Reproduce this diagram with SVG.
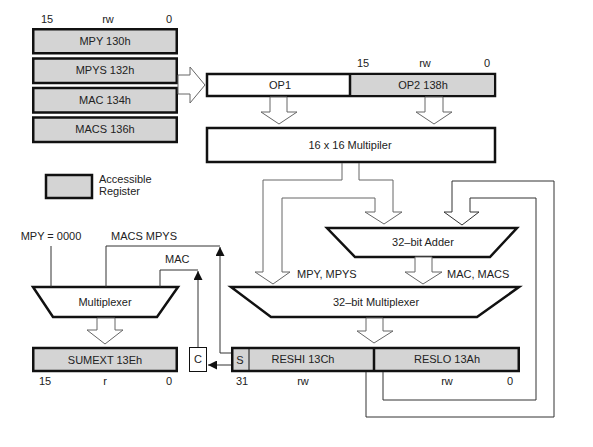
<svg xmlns="http://www.w3.org/2000/svg" width="593" height="447" viewBox="0 0 593 447">
<style>
text{font-family:"Liberation Sans",Arial,sans-serif;font-size:11px;fill:#222}
.m{text-anchor:middle}
.reg{fill:#d4d4d4;stroke:#111;stroke-width:2.5}
.box{fill:#fff;stroke:#111;stroke-width:2.5}
.thin{fill:#fff;stroke:#111;stroke-width:1}
.bus{fill:#fff;stroke:#666;stroke-width:1}
.ln{fill:none;stroke:#333;stroke-width:1}
.bl{fill:none;stroke:#666;stroke-width:1}
</style>
<defs>
<marker id="ah" viewBox="0 0 10 10" refX="10" refY="5" markerWidth="9" markerHeight="9" markerUnits="userSpaceOnUse" orient="auto">
<path d="M0,0 L10,5 L0,10 Z" fill="#111"/>
</marker>
</defs>
<rect width="593" height="447" fill="#fff"/>

<g id="regstack">
<text class="m" x="47" y="23">15</text>
<text class="m" x="108" y="23">rw</text>
<text class="m" x="169" y="23">0</text>
<rect class="reg" x="33.25" y="29.25" width="143.5" height="24"/>
<rect class="reg" x="33.25" y="58.5" width="143.5" height="24.5"/>
<rect class="reg" x="33.25" y="88" width="143.5" height="24.5"/>
<rect class="reg" x="33.25" y="117.5" width="143.5" height="24.5"/>
<text class="m" x="105" y="45">MPY 130h</text>
<text class="m" x="105" y="74">MPYS 132h</text>
<text class="m" x="105" y="104">MAC 134h</text>
<text class="m" x="105" y="133">MACS 136h</text>
</g>

<g id="legend">
<rect class="reg" x="46" y="175" width="46" height="23"/>
<text x="99" y="183">Accessible</text>
<text x="99" y="195">Register</text>
</g>

<g id="op">
<text class="m" x="363" y="67">15</text>
<text class="m" x="425" y="67">rw</text>
<text class="m" x="487" y="67">0</text>
<rect class="box" x="207" y="74" width="288" height="22"/>
<rect x="350" y="75.25" width="143.75" height="19.5" fill="#d4d4d4"/>
<line x1="350" y1="74" x2="350" y2="96" stroke="#111" stroke-width="2.5"/>
<text class="m" x="280" y="89">OP1</text>
<text class="m" x="423" y="89">OP2 138h</text>
</g>

<g id="multiplier">
<rect class="box" x="207" y="128" width="288" height="34"/>
<text class="m" x="350" y="149">16 x 16 Multipiler</text>
</g>

<g id="adder">
<polygon class="box" points="327,228 517,228 490,257 355,257"/>
<text class="m" x="423" y="246">32–bit Adder</text>
</g>

<g id="mux32">
<polygon class="box" points="231,287 519,287 477,317 271,317"/>
<text class="m" x="376" y="306">32–bit Multiplexer</text>
</g>

<g id="mux">
<polygon class="box" points="33,287 178,287 157,317 53,317"/>
<text class="m" x="105" y="306">Multiplexer</text>
</g>

<g id="sumext">
<rect class="reg" x="33.25" y="348" width="143.5" height="23"/>
<text class="m" x="105" y="364">SUMEXT 13Eh</text>
<text class="m" x="45" y="385">15</text>
<text class="m" x="105" y="385">r</text>
<text class="m" x="169" y="385">0</text>
</g>

<g id="res">
<rect class="reg" x="232.25" y="348" width="286.5" height="23"/>
<line x1="249" y1="349" x2="249" y2="370" stroke="#111" stroke-width="1"/>
<line x1="374" y1="348" x2="374" y2="371" stroke="#111" stroke-width="2.5"/>
<text class="m" x="240" y="364">S</text>
<text class="m" x="303" y="363">RESHI 13Ch</text>
<text class="m" x="447" y="363">RESLO 13Ah</text>
<text class="m" x="242" y="385">31</text>
<text class="m" x="303" y="385">rw</text>
<text class="m" x="447" y="385">rw</text>
<text class="m" x="510" y="385">0</text>
</g>

<g id="carry">
<rect class="thin" x="189.5" y="347.5" width="17" height="24"/>
<text class="m" x="198" y="363">C</text>
</g>

<g id="connectors">
<!-- register stack to OP -->
<polygon class="bus" points="178,75 190,75 190,67 205,85 190,103 190,94 178,94"/>
<!-- OP1 / OP2 to multiplier -->
<polygon class="bus" points="270,97 287,97 287,112 297,112 279,124 261,112 270,112"/>
<polygon class="bus" points="425,97 443,97 443,112 452,112 434,124 416,112 425,112"/>
<!-- multiplier bus split -->
<path class="bl" d="M342,163 V180 H263 V272 H255 L273,284 L290,272 H282 V198 H375 V212 H365 L384,224 L402,212 H393 V180 H359 V163"/>
<!-- adder to 32-bit mux -->
<polygon class="bus" points="415,257 432,257 432,272 442,272 423,284 405,272 415,272"/>
<!-- 32-bit mux to RES -->
<polygon class="bus" points="366,318 383,318 383,331 393,331 374,343 357,331 366,331"/>
<!-- mux to SUMEXT -->
<polygon class="bus" points="97,318 115,318 115,330 123,330 105,344 87,330 97,330"/>
<!-- feedback loops RES -> adder -->
<path class="ln" d="M366,372 V417 H554 V181 H452 V212 H444 L462,225 L479,212 H470 V198 H536 V400 H383 V372"/>
<!-- multiplexer inputs -->
<path class="ln" d="M51,246 V287"/>
<path class="ln" d="M106,287 V246 H220"/>
<path class="ln" d="M160,287 V270 H198"/>
<path class="ln" d="M231,353 H220 V247" marker-end="url(#ah)"/>
<path class="ln" d="M198,347 V271" marker-end="url(#ah)"/>
<path class="ln" d="M231,365 H208" marker-end="url(#ah)"/>
<text class="m" x="51" y="240">MPY = 0000</text>
<text x="111" y="240">MACS MPYS</text>
<text x="165" y="263">MAC</text>
<text x="297" y="278">MPY, MPYS</text>
<text x="447" y="278">MAC, MACS</text>
</g>
</svg>
